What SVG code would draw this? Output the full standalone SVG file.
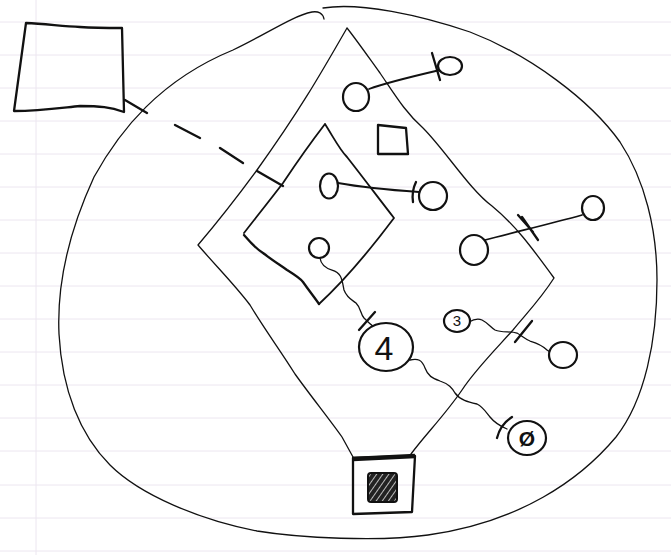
<svg xmlns="http://www.w3.org/2000/svg" width="671" height="555" viewBox="0 0 671 555">
<style>
.paper{stroke:#ece6f0;stroke-width:1;fill:none}
.thin{fill:none;stroke:#111;stroke-width:1.3;stroke-linecap:round;stroke-linejoin:round}
.med{fill:none;stroke:#111;stroke-width:1.8;stroke-linecap:round;stroke-linejoin:round}
.bold{fill:none;stroke:#111;stroke-width:2.3;stroke-linecap:round;stroke-linejoin:round}
.node{fill:#fff;stroke:#111;stroke-width:2.2}
.lbl{font-family:"Liberation Sans",Arial,sans-serif;fill:#111;text-anchor:middle}
</style>
<defs>
<pattern id="hatch" width="5" height="5" patternUnits="userSpaceOnUse" patternTransform="rotate(35)">
<rect width="5" height="5" fill="#222"/>
<line x1="0" y1="0" x2="0" y2="5" stroke="#fff" stroke-width="1.4"/>
</pattern>
</defs>
<rect width="671" height="555" fill="#fff"/>
<g id="paper">
<path class="paper" d="M0,22H671M0,55H671M0,88H671M0,121H671M0,154H671M0,187H671M0,220H671M0,253H671M0,286H671M0,319H671M0,352H671M0,385H671M0,418H671M0,451H671M0,485H671M0,518H671M0,551H671M36,0V555"/>
</g>
<g id="field-outline">
<path class="thin" d="M323,8 C360,2 420,15 470,32 C530,55 590,100 620,142 C645,180 657,230 657,280 C657,340 645,400 616,437 C580,480 520,522 428,535 C380,542 300,538 257,531 C200,520 140,495 110,465 C80,435 62,390 59,334 C57,290 65,240 94,177 C120,130 160,80 233,50 C265,35 292,16 312,12 C318,11 323,13 324,19"/>
</g>
<g id="outer-diamond">
<path class="thin" d="M347,28 C320,75 300,110 257,170 C235,200 215,225 198,245 C215,265 235,285 250,305 C265,330 280,350 295,374 C310,395 330,420 342,437 L353,457 M347,28 C355,38 362,48 380,73 C395,95 405,112 423,128 C445,150 470,190 492,206 C515,225 530,245 554,278 C540,300 525,315 513,330 C495,350 475,370 462,390 C445,415 425,435 411,454"/>
</g>
<g id="inner-diamond">
<path class="med" d="M325,124 C305,150 295,165 283,183 C270,200 258,215 244,233 M325,124 C335,140 340,150 347,157 C365,180 380,200 394,218 C370,250 345,280 319,304"/>
<path class="bold" d="M244,235 C250,242 255,248 263,253 C272,260 280,265 287,270 C295,275 300,278 303,282 C310,292 315,298 319,304"/>
</g>
<g id="left-box">
<path class="bold" d="M26,23 C45,24 62,26 80,27 C95,28 110,28 122,28 L124,112 C110,107 100,106 80,106 C60,108 40,111 14,111 Z"/>
</g>
<g id="small-square">
<path class="bold" d="M378,125 L406,128 L408,154 L378,154 Z"/>
</g>
<g id="home-box">
<path class="bold" d="M353,458 L415,456 L412,512 L353,514 Z"/>
<path fill="none" stroke="#111" stroke-width="4.5" d="M353,459 L415,456"/>
<rect x="368" y="473" width="29" height="29" rx="3" fill="url(#hatch)" stroke="#111" stroke-width="2"/>
</g>
<g id="connectors">
<path class="bold" d="M125,100 L147,113 M175,125 L200,138 M220,148 L243,163 M257,171 L283,186"/>
<path class="med" d="M369,89 C385,83 410,77 440,70"/>
<path class="bold" d="M432,53 L440,80"/>
<path class="med" d="M338,183 C360,187 390,190 419,192"/>
<path class="bold" d="M416,182 C413,188 412,195 413,202"/>
<path class="med" d="M485,240 C515,232 550,224 582,215"/>
<path class="bold" d="M518,215 L533,232 M522,217 L538,240"/>
<path class="thin" d="M320,258 C321,265 325,268 332,270 C342,273 342,280 344,290 C347,298 352,300 356,303 C361,308 360,313 364,318 C368,322 371,325 374,327"/>
<path class="bold" d="M359,330 L375,312"/>
<path class="thin" d="M410,360 C418,358 422,360 425,368 C428,376 432,378 440,381 C449,384 452,388 455,393 C460,400 468,402 477,404 C483,407 486,412 490,417 C494,422 500,426 507,429"/>
<path class="bold" d="M512,417 C504,422 499,430 497,438"/>
<path class="thin" d="M469,322 C474,319 478,318 482,320 C488,323 490,327 495,330 C502,333 510,331 517,333 C522,336 525,339 530,341 C537,343 542,345 547,350 L550,352"/>
<path class="bold" d="M532,321 L515,342"/>
</g>
<g id="n-a"><ellipse class="node" cx="356" cy="97" rx="13" ry="14"/></g>
<g id="n-b"><ellipse class="node" cx="450" cy="66" rx="12" ry="9"/></g>
<g id="n-c"><ellipse class="node" cx="329" cy="186" rx="9" ry="12.5"/></g>
<g id="n-d"><ellipse class="node" cx="433" cy="196" rx="14" ry="14"/></g>
<g id="n-e"><ellipse class="node" cx="319" cy="248" rx="10" ry="10"/></g>
<g id="n-f"><ellipse class="node" cx="474" cy="250" rx="14" ry="15"/></g>
<g id="n-g"><ellipse class="node" cx="593" cy="208" rx="11" ry="12"/></g>
<g id="n-4"><ellipse class="node" cx="386" cy="347" rx="27" ry="24"/><text class="lbl" x="384" y="360" font-size="34">4</text></g>
<g id="n-3"><ellipse class="node" cx="457" cy="321" rx="13" ry="11"/><text class="lbl" x="457" y="326" font-size="15">3</text></g>
<g id="n-h"><ellipse class="node" cx="563" cy="355" rx="14" ry="13"/></g>
<g id="n-0"><ellipse class="node" cx="527" cy="438" rx="19" ry="17"/><text class="lbl" x="527" y="446" font-size="21" font-weight="bold">Ø</text></g>
</svg>
